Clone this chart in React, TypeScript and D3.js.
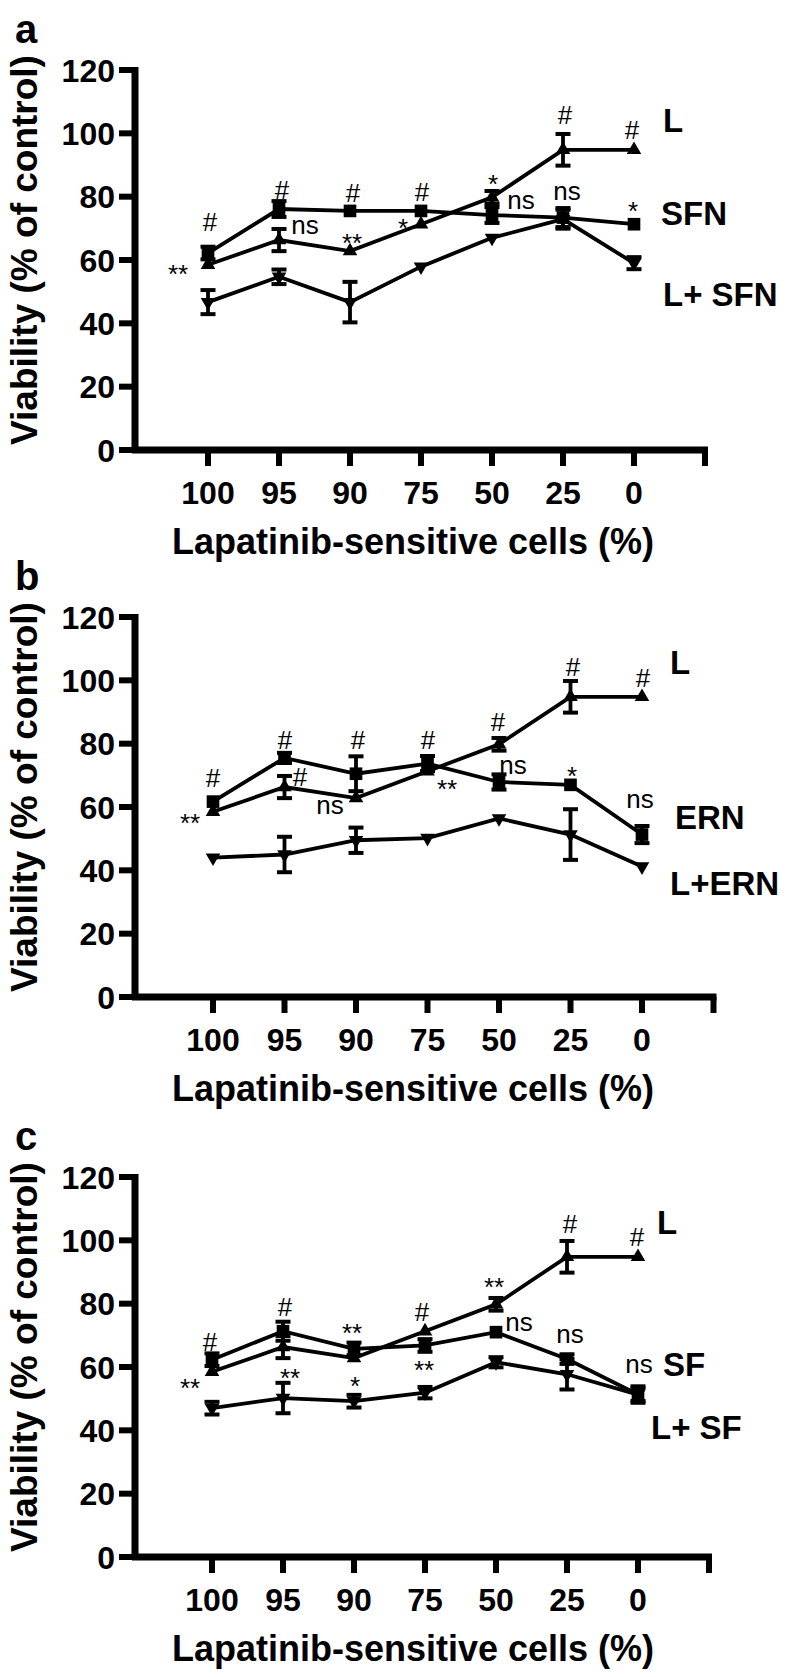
import React from "react";
import * as d3 from "d3";

// ---------- data ----------
const categories = ["100", "95", "90", "75", "50", "25", "0"];
const yTickValues = [0, 20, 40, 60, 80, 100, 120];
const xAxisTitle = "Lapatinib-sensitive cells (%)";
const yAxisTitle = "Viability (% of control)";

const lMean = [58.5, 66.3, 62.8, 71.3, 79.8, 94.8, 94.8];
const lErr = [0, 3.5, 0, 0, 2.0, 5.0, 0];

const sfnMean = [62.2, 76.1, 75.5, 75.5, 74.2, 73.4, 71.3];
const sfnErr = [2.0, 2.5, 0, 0, 2.5, 3.0, 0];
const lSfnMean = [46.7, 54.7, 46.7, 57.9, 67.0, 72.9, 59.0];
const lSfnErr = [3.8, 2.3, 6.4, 0, 0, 3.0, 1.9];

const ernMean = [61.7, 75.5, 70.5, 73.7, 67.9, 67.0, 51.3];
const ernErr = [0, 1.6, 5.5, 2.4, 2.4, 0, 2.7];
const lErnMean = [44.0, 45.0, 49.5, 50.2, 56.4, 51.3, 41.2];
const lErnErr = [0, 5.6, 4.0, 0, 0, 8.0, 0];

const sfMean = [62.3, 71.3, 65.7, 66.8, 71.0, 62.5, 51.3];
const sfErr = [2.0, 3.0, 2.0, 2.0, 0, 1.5, 2.0];
const lSfMean = [47.0, 50.2, 49.2, 51.9, 61.5, 57.7, 51.3];
const lSfErr = [2.0, 4.8, 2.0, 1.8, 1.6, 4.8, 2.6];

// significance marks: [text, category index, value, dx]
const annotA: [string, number, number, number][] = [
  ["#", 0, 72.0, 2], ["**", 0, 57.5, -30], ["#", 1, 82.1, 3], ["ns", 1, 70.4, 26],
  ["**", 2, 67.3, 2], ["#", 2, 81.1, 3], ["*", 3, 72.0, -18], ["#", 3, 81.5, 1],
  ["*", 4, 85.9, 1], ["ns", 4, 78.3, 29], ["ns", 5, 81.1, 4], ["#", 5, 105.8, 2],
  ["#", 6, 101.0, -2], ["*", 6, 77.4, -1],
];
const annotB: [string, number, number, number][] = [
  ["#", 0, 69.2, 0], ["**", 0, 56.8, -23], ["#", 1, 81.1, 0.5], ["#", 1, 69.5, 15.5],
  ["#", 2, 81.1, 2], ["ns", 2, 59.7, -26], ["#", 3, 81.1, 0.5], ["**", 3, 67.6, 19.5],
  ["#", 4, 86.8, -1], ["ns", 4, 72.6, 14], ["#", 5, 104.2, 2.5], ["*", 5, 71.7, 1.5],
  ["#", 6, 100.7, 1], ["ns", 6, 61.6, -2],
];
const annotC: [string, number, number, number][] = [
  ["#", 0, 67.9, -2], ["**", 0, 55.3, -22], ["#", 1, 78.9, 2], ["**", 1, 58.4, 7],
  ["**", 2, 72.6, -2], ["*", 2, 55.9, 1], ["#", 3, 77.4, -3], ["**", 3, 60.9, -1],
  ["**", 4, 87.1, -2], ["ns", 4, 73.3, 23], ["ns", 5, 69.5, 3], ["#", 5, 105.1, 3],
  ["#", 6, 101.0, -1], ["ns", 6, 60.3, 1],
];

// series labels: [text, value]
const labelsA: [string, number][] = [["L", 104.2], ["SFN", 74.8], ["L+ SFN", 49.3]];
const labelsB: [string, number][] = [["L", 105.8], ["ERN", 56.8], ["L+ERN", 36.0]];
const labelsC: [string, number][] = [["L", 105.8], ["SF", 60.9], ["L+ SF", 41.0]];

type Marker = "square" | "up" | "down";
interface Series { mean: number[]; err: number[]; marker: Marker; }

interface Panel {
  letter: string;
  y0: number;
  xFirst: number;
  xLast: number;
  labelX: number[];
  series: Series[];
  annots: [string, number, number, number][];
  labels: [string, number][];
}

const panels: Panel[] = [
  {
    letter: "a", y0: 450, xFirst: 208, xLast: 634, labelX: [663, 661, 663],
    series: [
      { mean: lMean, err: lErr, marker: "up" },
      { mean: sfnMean, err: sfnErr, marker: "square" },
      { mean: lSfnMean, err: lSfnErr, marker: "down" },
    ],
    annots: annotA, labels: labelsA,
  },
  {
    letter: "b", y0: 997, xFirst: 213, xLast: 642, labelX: [670, 675, 670],
    series: [
      { mean: lMean, err: lErr, marker: "up" },
      { mean: ernMean, err: ernErr, marker: "square" },
      { mean: lErnMean, err: lErnErr, marker: "down" },
    ],
    annots: annotB, labels: labelsB,
  },
  {
    letter: "c", y0: 1557, xFirst: 212, xLast: 638, labelX: [657, 663, 651],
    series: [
      { mean: lMean, err: lErr, marker: "up" },
      { mean: sfMean, err: sfErr, marker: "square" },
      { mean: lSfMean, err: lSfErr, marker: "down" },
    ],
    annots: annotC, labels: labelsC,
  },
];

const FONT = "'Liberation Sans', Arial, Helvetica, sans-serif";
const AXIS_X = 135;
const ANNOT_SIZE = 26;

function baselineOffset(t: string): number {
  if (t.startsWith("*")) return 15;
  if (t.startsWith("#")) return 9;
  return 6.5;
}

const squarePath = d3.symbol().type(d3.symbolSquare).size(160)()!;
const triPath = d3.symbol().type(d3.symbolTriangle).size(92)()!;

function PanelView({ p }: { p: Panel }) {
  const x = d3.scalePoint<string>().domain(categories).range([p.xFirst, p.xLast]);
  const step = x.step();
  const y = d3.scaleLinear().domain([0, 120]).range([p.y0, p.y0 - 380]);
  const xEnd = p.xLast + step;
  const line = d3
    .line<number>()
    .x((_, i) => x(categories[i])!)
    .y((d) => y(d));

  return (
    <g>
      <text x={15} y={p.y0 - 407} fontFamily={FONT} fontWeight="bold" fontSize={40}>
        {p.letter}
      </text>
      {/* y axis title */}
      <text
        transform={`translate(37,${p.y0 - 200}) rotate(-90)`}
        textAnchor="middle"
        fontFamily={FONT}
        fontWeight="bold"
        fontSize={37}
      >
        {yAxisTitle}
      </text>
      {/* axes */}
      <line x1={AXIS_X} x2={AXIS_X} y1={y(120) - 3} y2={p.y0 + 3} stroke="#000" strokeWidth={7} />
      <line x1={AXIS_X - 3} x2={xEnd + 3} y1={p.y0} y2={p.y0} stroke="#000" strokeWidth={7} />
      {yTickValues.map((v) => (
        <g key={"yt" + v}>
          <line x1={AXIS_X - 16} x2={AXIS_X} y1={y(v)} y2={y(v)} stroke="#000" strokeWidth={6} />
          <text
            x={115}
            y={y(v) + 11.5}
            textAnchor="end"
            fontFamily={FONT}
            fontWeight="bold"
            fontSize={32}
          >
            {v}
          </text>
        </g>
      ))}
      {categories.map((c) => (
        <g key={"xt" + c}>
          <line x1={x(c)!} x2={x(c)!} y1={p.y0} y2={p.y0 + 16} stroke="#000" strokeWidth={6} />
          <text
            x={x(c)!}
            y={p.y0 + 54}
            textAnchor="middle"
            fontFamily={FONT}
            fontWeight="bold"
            fontSize={32}
          >
            {c}
          </text>
        </g>
      ))}
      <line x1={xEnd} x2={xEnd} y1={p.y0} y2={p.y0 + 16} stroke="#000" strokeWidth={6} />
      <text
        x={413}
        y={p.y0 + 104}
        textAnchor="middle"
        fontFamily={FONT}
        fontWeight="bold"
        fontSize={36}
      >
        {xAxisTitle}
      </text>
      {/* series */}
      {p.series.map((s, si) => (
        <g key={"s" + si}>
          <path d={line(s.mean)!} fill="none" stroke="#000" strokeWidth={3.8} strokeLinejoin="miter" />
          {s.mean.map((m, i) => {
            const e = s.err[i];
            if (e <= 0) return null;
            const cx = x(categories[i])!;
            const yt = y(m + e);
            const yb = y(m - e);
            return (
              <g key={"e" + i}>
                <line x1={cx} x2={cx} y1={yt} y2={yb} stroke="#000" strokeWidth={3.8} />
                <line x1={cx - 7.5} x2={cx + 7.5} y1={yt} y2={yt} stroke="#000" strokeWidth={4} />
                <line x1={cx - 7.5} x2={cx + 7.5} y1={yb} y2={yb} stroke="#000" strokeWidth={4} />
              </g>
            );
          })}
          {s.mean.map((m, i) => {
            const cx = x(categories[i])!;
            const cy = y(m);
            if (s.marker === "square")
              return <path key={"m" + i} d={squarePath} transform={`translate(${cx},${cy})`} fill="#000" />;
            if (s.marker === "up")
              return <path key={"m" + i} d={triPath} transform={`translate(${cx},${cy})`} fill="#000" />;
            return (
              <path key={"m" + i} d={triPath} transform={`translate(${cx},${cy}) rotate(180)`} fill="#000" />
            );
          })}
        </g>
      ))}
      {/* significance marks */}
      {p.annots.map(([t, i, v, dx], k) => (
        <text
          key={"a" + k}
          x={x(categories[i])! + dx}
          y={y(v) + baselineOffset(t)}
          textAnchor="middle"
          fontFamily={FONT}
          fontSize={ANNOT_SIZE}
        >
          {t}
        </text>
      ))}
      {/* series labels */}
      {p.labels.map(([t, v], k) => (
        <text
          key={"l" + k}
          x={p.labelX[k]}
          y={y(v) + 12}
          fontFamily={FONT}
          fontWeight="bold"
          fontSize={33}
        >
          {t}
        </text>
      ))}
    </g>
  );
}

export default function App() {
  return (
    <svg
      width={790}
      height={1677}
      viewBox="0 0 790 1677"
      style={{ position: "absolute", left: 0, top: 0, background: "#fff" }}
    >
      <rect width={790} height={1677} fill="#fff" />
      {panels.map((p) => (
        <PanelView key={p.letter} p={p} />
      ))}
    </svg>
  );
}
